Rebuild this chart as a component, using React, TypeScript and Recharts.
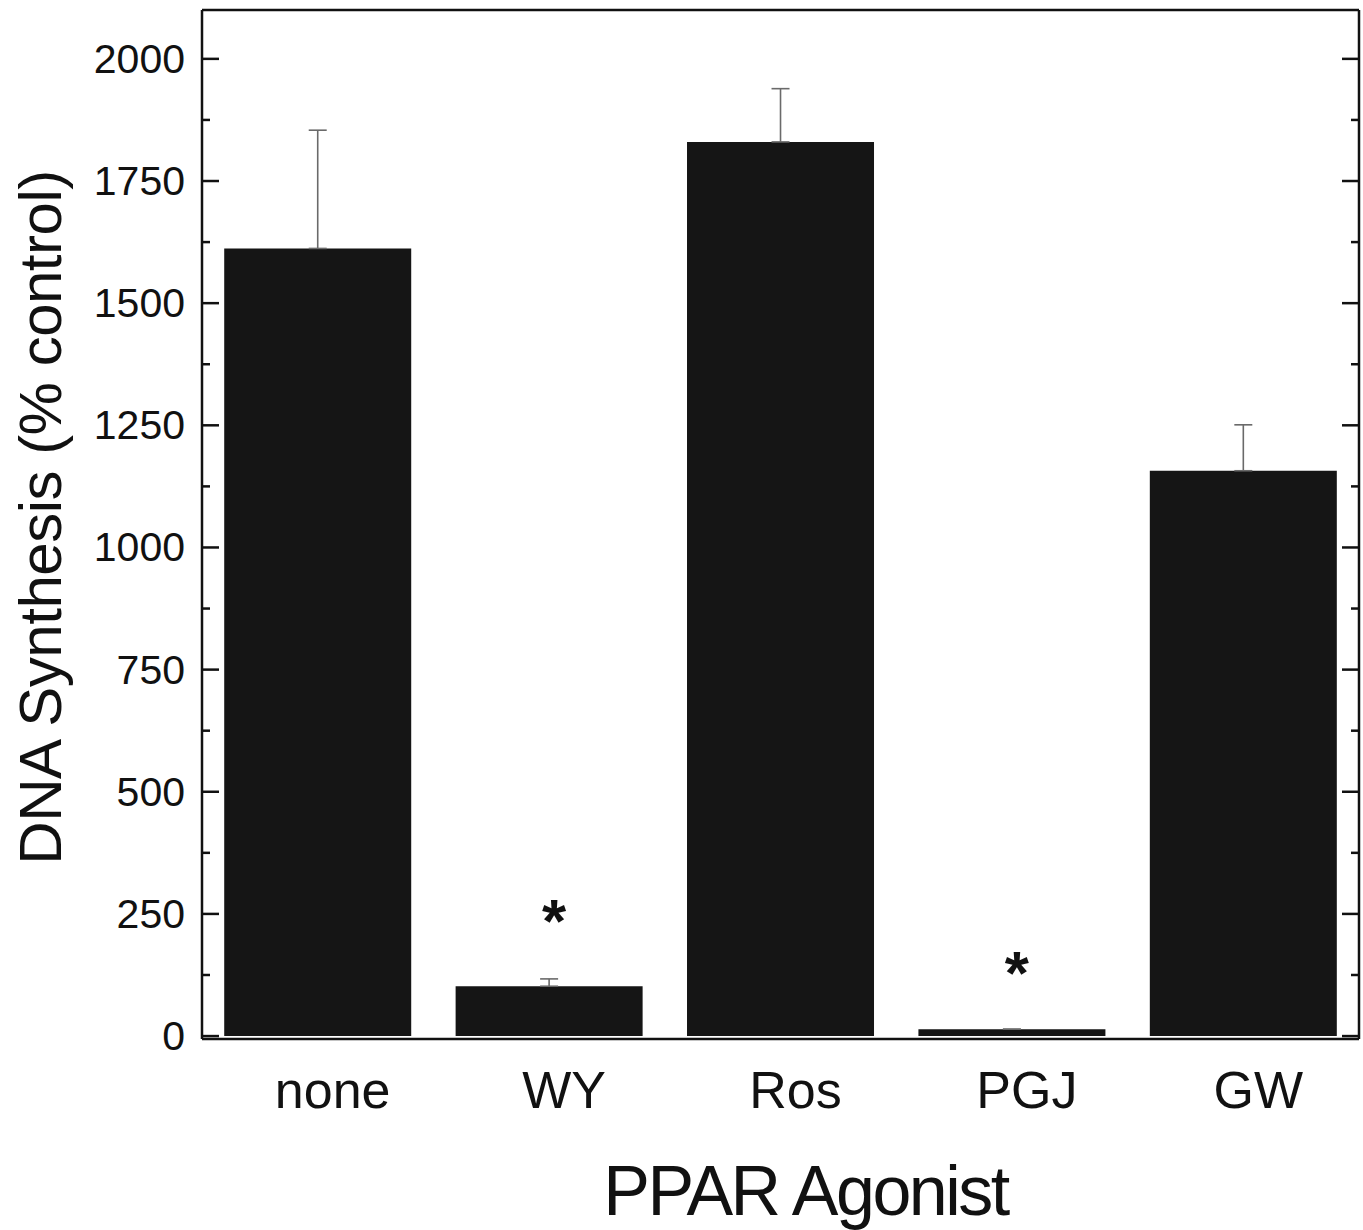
import {
  Bar,
  ComposedChart,
  ErrorBar,
  Label,
  Scatter,
  XAxis,
  YAxis,
} from "recharts";

const agonists = ["none", "WY", "Ros", "PGJ", "GW"];
const synthesis = [1612, 102, 1830, 14, 1157];
const errorUp = [242, 15, 109, 0, 94];
const starLevel = [null, 262, null, 156, null];

const majorTicks = [0, 250, 500, 750, 1000, 1250, 1500, 1750, 2000];
const minorTicks = [125, 375, 625, 875, 1125, 1375, 1625, 1875];

const data = agonists.map((name, i) => ({
  name,
  value: synthesis[i],
  err: [0, errorUp[i]],
  star: starLevel[i],
}));

const allTicks = [...majorTicks, ...minorTicks].sort((a, b) => a - b);
const font = '"Liberation Sans", Arial, sans-serif';
const domain: [number, number] = [-6, 2100];
const ink = "#111";

// ticks point into the plot, so draw them by hand
function LeftTick(props: any) {
  const { x, y, payload } = props;
  const major = majorTicks.includes(payload.value);
  const ax = x + 17;
  return (
    <g>
      <line x1={ax} x2={ax + (major ? 17 : 8)} y1={y} y2={y} stroke={ink} strokeWidth={2.5} />
      {major && (
        <text
          x={x}
          y={y}
          textAnchor="end"
          dominantBaseline="central"
          fontFamily={font}
          fontSize={41}
          fill={ink}
        >
          {payload.value}
        </text>
      )}
    </g>
  );
}

function RightTick(props: any) {
  const { x, y, payload } = props;
  const major = majorTicks.includes(payload.value);
  return (
    <line x1={x - (major ? 17 : 8)} x2={x} y1={y} y2={y} stroke={ink} strokeWidth={2.5} />
  );
}

function Star(props: any) {
  const { cx, cy, payload } = props;
  if (payload == null || payload.star == null || cy == null) return <g />;
  return (
    <text
      x={cx + 5}
      y={cy + 34}
      textAnchor="middle"
      fontFamily={font}
      fontSize={62}
      fontWeight="bold"
      fill={ink}
    >
      *
    </text>
  );
}

function YTitle({ viewBox }: any) {
  const x = viewBox.x + 40;
  const y = viewBox.y + viewBox.height / 2 - 7;
  return (
    <text
      x={x}
      y={y}
      transform={`rotate(-90, ${x}, ${y})`}
      textAnchor="middle"
      dominantBaseline="central"
      fontFamily={font}
      fontSize={60}
      letterSpacing={-0.5}
      fill={ink}
    >
      DNA Synthesis (% control)
    </text>
  );
}

export default function App() {
  return (
    <div style={{ width: 1363, height: 1230, background: "#fff" }}>
      <style>{"body{margin:0}"}</style>
      <ComposedChart
        width={1363}
        height={1230}
        data={data}
        margin={{ top: 9, right: 3, left: 0, bottom: 0 }}
        barCategoryGap="9.6%"
      >
        <XAxis
          dataKey="name"
          type="category"
          height={191}
          tickLine={false}
          tickSize={0}
          tickMargin={32}
          axisLine={{ stroke: ink, strokeWidth: 2.5 }}
          tick={{ fontFamily: font, fontSize: 52, fill: ink, dx: 15 }}
        >
          <Label
            value="PPAR Agonist"
            position="insideBottom"
            offset={15}
            dx={25}
            style={{
              fontFamily: font,
              fontSize: 70,
              letterSpacing: -2.5,
              fill: ink,
            }}
          />
        </XAxis>
        <XAxis
          xAxisId="top"
          dataKey="name"
          orientation="top"
          height={1}
          tick={false}
          tickLine={false}
          axisLine={{ stroke: ink, strokeWidth: 2.5 }}
        />
        <YAxis
          type="number"
          domain={domain}
          allowDataOverflow
          width={202}
          ticks={allTicks}
          interval={0}
          tickSize={0}
          tickMargin={17}
          tickLine={false}
          axisLine={{ stroke: ink, strokeWidth: 2.5 }}
          tick={<LeftTick />}
          label={<YTitle />}
        />
        <YAxis
          yAxisId="right"
          orientation="right"
          type="number"
          domain={domain}
          allowDataOverflow
          width={1}
          ticks={allTicks}
          interval={0}
          tickSize={0}
          tickMargin={0}
          tickLine={false}
          axisLine={{ stroke: ink, strokeWidth: 2.5 }}
          tick={<RightTick />}
        />
        <Bar dataKey="value" fill="#151515" isAnimationActive={false}>
          <ErrorBar
            dataKey="err"
            direction="y"
            width={9}
            stroke="#6a6a6a"
            strokeWidth={1.6}
          />
        </Bar>
        <Scatter dataKey="star" shape={<Star />} isAnimationActive={false} />
      </ComposedChart>
    </div>
  );
}
